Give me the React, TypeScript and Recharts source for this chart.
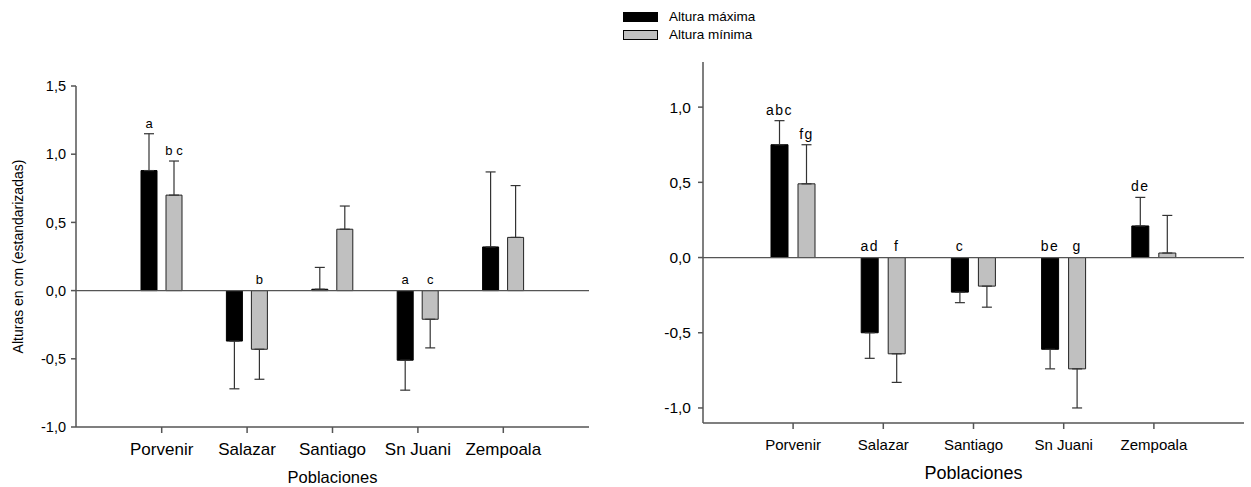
import React from "react";
import {
  BarChart,
  Bar,
  XAxis,
  YAxis,
  ReferenceLine,
  ErrorBar,
  LabelList,
  Legend,
} from "recharts";

const FONT = '"Liberation Sans", Arial, Helvetica, sans-serif';
const AXIS = "#555";

const categories = ["Porvenir", "Salazar", "Santiago", "Sn Juani", "Zempoala"];

// left panel
const leftMax = [0.88, -0.37, 0.01, -0.51, 0.32];
const leftMaxErr = [0.27, 0.35, 0.16, 0.22, 0.55];
const leftMin = [0.7, -0.43, 0.45, -0.21, 0.39];
const leftMinErr = [0.25, 0.22, 0.17, 0.21, 0.38];
const leftMaxLetters = ["a", "", "", "a", ""];
const leftMinLetters = ["b c", "b", "", "c", ""];
const leftTicks = [-1, -0.5, 0, 0.5, 1, 1.5];

// right panel
const rightMax = [0.75, -0.5, -0.23, -0.61, 0.21];
const rightMaxErr = [0.16, 0.17, 0.07, 0.13, 0.19];
const rightMin = [0.49, -0.64, -0.19, -0.74, 0.03];
const rightMinErr = [0.26, 0.19, 0.14, 0.26, 0.25];
const rightMaxLetters = ["abc", "ad", "c", "be", "de"];
const rightMinLetters = ["fg", "f", "", "g", ""];
const rightTicks = [-1, -0.5, 0, 0.5, 1];

// one-sided error: only away from zero
const side = (v: number, e: number) => (v >= 0 ? [0, e] : [e, 0]);

const toRows = (max: number[], maxErr: number[], min: number[], minErr: number[]) =>
  categories.map((name, i) => ({
    name,
    max: max[i],
    min: min[i],
    maxErr: side(max[i], maxErr[i]),
    minErr: side(min[i], minErr[i]),
  }));

const leftData = toRows(leftMax, leftMaxErr, leftMin, leftMinErr);
const rightData = toRows(rightMax, rightMaxErr, rightMin, rightMinErr);

const fmt = (v: number) => v.toFixed(1).replace(".", ",");

// letter above the error cap (positive bars) or above the zero line (negative bars)
function letterLabel(values: number[], errs: number[], letters: string[], fontSize: number, spacing: number) {
  return (props: any) => {
    const i = props.index;
    const txt = letters[i];
    if (!txt) return null;
    const vb = props.viewBox || props;
    const y1 = Math.min(vb.y, vb.y + vb.height);
    const y2 = Math.max(vb.y, vb.y + vb.height);
    const v = values[i];
    let ty;
    if (v >= 0) {
      const perUnit = (y2 - y1) / v;
      ty = y1 - errs[i] * perUnit - 6;
    } else {
      ty = y1 - 7;
    }
    return (
      <text
        x={vb.x + vb.width / 2}
        y={ty}
        textAnchor="middle"
        fontSize={fontSize}
        fontFamily={FONT}
        letterSpacing={spacing}
        fill="#000"
      >
        {txt}
      </text>
    );
  };
}

function LegendBox({ payload }: any) {
  return (
    <div style={{ fontFamily: FONT, fontSize: 13.5, color: "#000", lineHeight: "18px" }}>
      {(payload || []).map((p: any) => (
        <div key={p.value} style={{ display: "flex", alignItems: "center" }}>
          <span
            style={{
              display: "inline-block",
              width: 33,
              height: 8,
              background: p.color,
              border: "1px solid #000",
              marginRight: 11,
            }}
          />
          {p.value}
        </div>
      ))}
    </div>
  );
}

export default function App() {
  return (
    <div style={{ position: "absolute", left: 0, top: 0, width: 1251, height: 487, background: "#fff" }}>
      {/* left panel */}
      <div style={{ position: "absolute", left: 0, top: 0 }}>
        <BarChart
          width={600}
          height={487}
          data={leftData}
          margin={{ top: 86, right: 11, bottom: 0, left: 0 }}
          barSize={16}
          barGap={9}
        >
          <XAxis
            dataKey="name"
            interval={0}
            height={60}
            padding={{ left: 43, right: 43 }}
            axisLine={{ stroke: AXIS, strokeWidth: 1.5 }}
            tickLine={{ stroke: AXIS, strokeWidth: 1.5 }}
            tickSize={6}
            tickMargin={10}
            tick={{ fontSize: 17, fill: "#000", fontFamily: FONT }}
            label={{
              content: ({ viewBox }: any) => (
                <text
                  x={viewBox.x + viewBox.width / 2}
                  y={viewBox.y + 55.5}
                  textAnchor="middle"
                  fontSize={16.5}
                  fontFamily={FONT}
                  fill="#000"
                >
                  Poblaciones
                </text>
              ),
            }}
          />
          <YAxis
            type="number"
            domain={[-1, 1.5]}
            ticks={leftTicks}
            allowDataOverflow
            width={76}
            tickFormatter={fmt}
            axisLine={{ stroke: AXIS, strokeWidth: 1.5 }}
            tickLine={{ stroke: AXIS, strokeWidth: 1.5 }}
            tickSize={5}
            tickMargin={5}
            tick={{ fontSize: 14.5, fill: "#000", fontFamily: FONT }}
            label={{
              content: ({ viewBox }: any) => {
                const cx = viewBox.x + 17.5;
                const cy = viewBox.y + viewBox.height / 2;
                return (
                  <text
                    x={cx}
                    y={cy}
                    transform={`rotate(-90 ${cx} ${cy})`}
                    textAnchor="middle"
                    dominantBaseline="central"
                    fontSize={14}
                    fontFamily={FONT}
                    fill="#000"
                  >
                    Alturas en cm (estandarizadas)
                  </text>
                );
              },
            }}
          />
          <ReferenceLine y={0} stroke={AXIS} strokeWidth={1.3} />
          <Bar dataKey="max" name="Altura máxima" fill="#000" stroke="#000" isAnimationActive={false}>
            <ErrorBar dataKey="maxErr" width={5} stroke="#333" strokeWidth={1.2} isAnimationActive={false} />
            <LabelList content={letterLabel(leftMax, leftMaxErr, leftMaxLetters, 13, 0)} />
          </Bar>
          <Bar dataKey="min" name="Altura mínima" fill="#c0c0c0" stroke="#222" isAnimationActive={false}>
            <ErrorBar dataKey="minErr" width={5} stroke="#333" strokeWidth={1.2} isAnimationActive={false} />
            <LabelList content={letterLabel(leftMin, leftMinErr, leftMinLetters, 13, 0)} />
          </Bar>
        </BarChart>
      </div>

      {/* right panel */}
      <div style={{ position: "absolute", left: 620, top: 0 }}>
        <BarChart
          width={631}
          height={487}
          data={rightData}
          margin={{ top: 62, right: 7, bottom: 0, left: 0 }}
          barSize={17}
          barGap={10}
        >
          <Legend
            layout="vertical"
            verticalAlign="middle"
            align="center"
            wrapperStyle={{ top: 8, left: 3, width: 200 }}
            content={<LegendBox />}
          />
          <XAxis
            dataKey="name"
            interval={0}
            height={64}
            padding={{ left: 45, right: 45 }}
            axisLine={{ stroke: AXIS, strokeWidth: 1.5 }}
            tickLine={{ stroke: AXIS, strokeWidth: 1.5 }}
            tickSize={6}
            tickMargin={10}
            tick={{ fontSize: 15, fill: "#000", fontFamily: FONT }}
            label={{
              content: ({ viewBox }: any) => (
                <text
                  x={viewBox.x + viewBox.width / 2}
                  y={viewBox.y + 56}
                  textAnchor="middle"
                  fontSize={18}
                  fontFamily={FONT}
                  fill="#000"
                >
                  Poblaciones
                </text>
              ),
            }}
          />
          <YAxis
            type="number"
            domain={[-1.1, 1.3]}
            ticks={rightTicks}
            allowDataOverflow
            width={83}
            tickFormatter={fmt}
            axisLine={{ stroke: AXIS, strokeWidth: 1.5 }}
            tickLine={{ stroke: AXIS, strokeWidth: 1.5 }}
            tickSize={5}
            tickMargin={7}
            tick={{ fontSize: 15.5, fill: "#000", fontFamily: FONT }}
          />
          <ReferenceLine y={0} stroke={AXIS} strokeWidth={1.3} />
          <Bar dataKey="max" name="Altura máxima" fill="#000" stroke="#000" isAnimationActive={false}>
            <ErrorBar dataKey="maxErr" width={5} stroke="#333" strokeWidth={1.2} isAnimationActive={false} />
            <LabelList content={letterLabel(rightMax, rightMaxErr, rightMaxLetters, 14, 1.5)} />
          </Bar>
          <Bar dataKey="min" name="Altura mínima" fill="#c0c0c0" stroke="#222" isAnimationActive={false}>
            <ErrorBar dataKey="minErr" width={5} stroke="#333" strokeWidth={1.2} isAnimationActive={false} />
            <LabelList content={letterLabel(rightMin, rightMinErr, rightMinLetters, 14, 1.5)} />
          </Bar>
        </BarChart>
      </div>
    </div>
  );
}
